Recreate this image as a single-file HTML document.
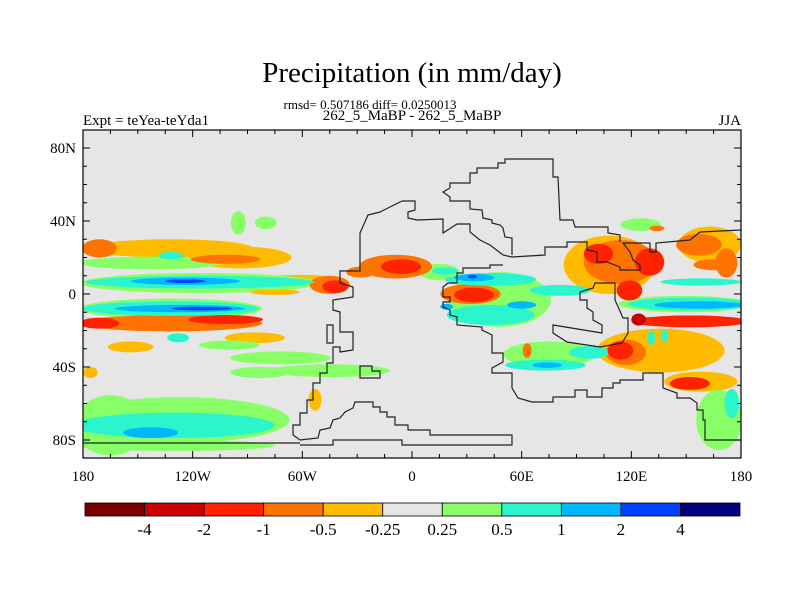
<!DOCTYPE html>
<html><head><meta charset="utf-8"><style>
html,body{margin:0;padding:0;background:#fff;}
svg{display:block;font-family:"Liberation Serif",serif;}
</style></head><body>
<svg id="chart" width="800" height="600" viewBox="0 0 800 600">
<text x="412" y="82" text-anchor="middle" font-size="29">Precipitation (in mm/day)</text>
<text x="370" y="109" text-anchor="middle" font-size="13">rmsd= 0.507186 diff= 0.0250013</text>
<text x="412" y="120" text-anchor="middle" font-size="15">262_5_MaBP - 262_5_MaBP</text>
<text x="83" y="125" font-size="15">Expt = teYea-teYda1</text>
<text x="741" y="125" text-anchor="end" font-size="15">JJA</text>
<defs><clipPath id="plotclip"><rect x="83" y="130" width="658" height="328"/></clipPath></defs>
<rect x="83" y="130" width="658" height="328" fill="#e6e6e6"/>
<g id="fields" clip-path="url(#plotclip)"></g>
<g id="coast" fill="none" stroke="#222" stroke-width="1.2" clip-path="url(#plotclip)"></g>
<rect x="83" y="130" width="658" height="328" fill="none" stroke="#000" stroke-width="1.2"/>
<g id="axes"></g>
<g id="colorbar"></g>
</svg>
<script>
// ---- data ----
const blobLon = [-132,-171,-94,-102,-61,-45,-42,-143,-132,-116,-116,-124,-124,-75,-132,-132,-127,-115,-132,-171,-102,-86,-154,-100,-72,-45,-83,-128,-95,-80,-127,-165,-130,-143,-130,-53,-176,-9,-28,-6,15,18,48,43,34,33,32,34,43,60,19,81,75,73,74,97,63,108,114,102,130,119,163,157,165,125,134,149,152,124,152,157,158,136,117,114,131,138,158,152,168,175,172];
const blobLat = [25,25,20,19,8,5,4,17,21,6,6.5,7,7,1,-8,-8,-8,-8,-16,-16,-14,-24,-29,-28,-35,-42,-43,-24,39,39,-69,-72,-72,-76,-83,-58,-43,15,12,15,12,12.6,-3,8,9,9.5,0,-0.5,-11.5,-6,-7,2,-33,-39,-39,-32,-31,16,17.5,22,17.5,2,27,27,16,38,36,-5.5,-5.5,-14,-15,-6,6.6,-31,-32,-31,-24,-23,-48,-49,-69,-60,17];
const blobW = [90,19,56,38,40,22,14,78,14,130,125,60,22,27,100,96,71,33,100,22,41,33,25,33,55,66,33,12,8,12,120,40,110,30,110,7,8,40,16,22,22,14,56,50,22,5,33,22,48,16,7,33,50,44,16,22,5,50,40,16,16,14,34,25,22,22,8,72,68,8,64,49,44,70,22,14,4,4,40,22,25,8,12];
const blobH = [10,10,12,5,5,10,7,7,4,11,7,4,2,3,11,8,4,2,9,6,5,6,6,5,7,7,6,5,13,7,25,33,14,6,6,12,6,13,6,8,9,4,30,7,4,2,11,8,11,4,3.3,6,14,6,3,7,8,32,24,11,15,11,20,12,6,7,3,9,7,6.6,6.5,4,4,24,14,10,8,7,11,7,33,16,16];
const blobVal = [-0.3,-0.6,-0.3,-0.6,-0.3,-0.6,-1.5,0.3,0.7,0.3,0.7,1.5,3,-0.3,0.3,0.7,1.5,3,-0.6,-1.5,-1.5,-0.3,-0.3,0.3,0.3,0.3,0.3,0.7,0.3,0.3,0.3,0.3,0.7,1.5,0.3,-0.3,-0.3,-0.6,-0.6,-1.5,0.3,0.7,0.3,0.7,1.5,3,-0.6,-1.5,0.7,1.5,1.5,0.7,0.3,0.7,1.5,0.7,-0.6,-0.3,-0.6,-1.5,-1.5,-1.5,-0.3,-0.6,-0.6,0.3,-0.6,0.3,0.7,-3,-1.5,1.5,0.7,-0.3,-0.6,-1.5,0.7,0.7,-0.3,-1.5,0.3,0.7,-0.6];
const levelBounds = [-4,-2,-1,-0.5,-0.25,0.25,0.5,1,2,4];
const levelColors = ["#7a0000","#cc0000","#ff2200","#ff7300","#ffbb00","#e6e6e6","#88ff66","#2af5cc","#00b8ff","#0040ff","#000080"];
const levelLabels = ["-4","-2","-1","-0.5","-0.25","0.25","0.5","1","2","4"];
const lonTicks = [-180,-120,-60,0,60,120,180];
const lonTickLabels = ["180","120W","60W","0","60E","120E","180"];
const latTicks = [80,40,0,-40,-80];
const latTickLabels = ["80N","40N","0","40S","80S"];
// ---- axes ----
const X0=83, X1=741, Y0=130, Y1=458;
function xs(lon){return X0+(lon+180)*(X1-X0)/360;}
function ys(lat){return 294-lat*1.825;}
function colorFor(v){let i=0;while(i<levelBounds.length && v>=levelBounds[i]) i++;return levelColors[i];}
const NS="http://www.w3.org/2000/svg";
function mk(tag,attrs,parent){const e=document.createElementNS(NS,tag);for(const k in attrs)e.setAttribute(k,attrs[k]);parent.appendChild(e);return e;}
const fields=document.getElementById('fields');
const order=blobVal.map((v,i)=>i).sort((a,b)=>Math.abs(blobVal[a])-Math.abs(blobVal[b]));
order.forEach(i=>{
  const e=mk('ellipse',{cx:xs(blobLon[i]),cy:ys(blobLat[i]),rx:blobW[i]*(X1-X0)/720,ry:blobH[i]*1.825/2,fill:colorFor(blobVal[i])},fields);
  
  
});
const coastPaths=[
"M402,201 L380,212 L368,215 L360,233 L360,271 L340,271 L340,283 L353,287 L353,297 L333,300 L333,310 L340,312 L340,332 L353,332 L353,350 L340,352 L340,347 L333,347 L333,363 L327,363 L327,373 L320,373 L320,383 L313,383 L313,400 L307,400 L307,413 L300,413 L300,425 L293,425 L293,435 L300,440",
"M402,201 L415,201 L415,210 L408,212 L408,218 L417,220 L443,219 L443,233 L457,224 L470,224 L470,232 L480,240 L490,245 L503,255 L512,257 L545,255 L545,247 L567,247 L567,242 L587,242 L587,250 L597,252 L597,262 L607,262 L620,267 L620,270 L640,270 L640,265 L633,260 L630,252 L623,243 L650,243 L650,252 L656,252 L656,243 L690,240 L700,232 L741,230",
"M503,265 L490,265 L490,268 L463,268 L463,273 L457,273 L457,283 L448,283 L443,287 L443,297 L450,297 L450,302 L443,302 L443,307 L450,310 L450,315 L457,317 L457,325 L482,327 L482,330 L492,335 L492,353 L503,353 L503,362 L492,368 L492,373 L512,373 L512,388 L518,398 L532,402 L553,402 L553,397 L575,397 L575,390 L587,390 L587,397 L602,397 L602,388 L613,388 L613,383 L620,383 L620,380 L643,380 L643,373 L663,373 L663,388 L677,393 L677,398 L690,398 L697,403 L697,410 L703,410 L703,420 L705,420 L705,440 L741,440",
"M450,188 L443,192 L450,197 L450,201 L470,201 L470,209 L482,210 L483,218 L492,220 L492,223 L500,225 L503,228 L505,237 L512,238 L512,255",
"M450,188 L450,183 L470,183 L470,173 L477,173 L477,168 L498,168 L498,163 L505,163 L505,159 L553,159 L553,177 L558,177 L560,220 L573,220 L575,227 L608,227 L608,233 L620,235 L620,242",
"M580,292 L580,300 L587,300 L587,308 L593,312 L593,320 L602,325 L602,333 L553,325 L553,333 L567,342 L600,347 L622,343 L628,333 L628,318 L623,318 L615,300 L615,283 L595,283 L593,288 L580,292",
"M300,440 L318,438 L320,430 L330,428 L333,420 L340,418 L345,412 L353,408 L355,402 L373,402 L373,407 L380,407 L380,412 L387,412 L387,417 L395,417 L395,425 L408,425 L408,430 L430,430 L430,435 L512,435 L512,445 L402,445 L402,440 L333,440 L333,445 L300,445",
"M83,443 L300,443",
"M360,366 L372,366 L372,371 L380,371 L380,378 L360,378 Z",
"M327,325 L333,325 L333,343 L327,343 Z"
];
const coast=document.getElementById('coast');
coastPaths.forEach(d=>{
  const p=mk('path',{d:d},coast);
  
  
});
const axes=document.getElementById('axes');
for(let lon=-180;lon<=180;lon+=15){
  const major=lon%60===0, L=major?7:4;
  mk('line',{x1:xs(lon),x2:xs(lon),y1:Y1,y2:Y1-L,stroke:'#000'},axes);
  mk('line',{x1:xs(lon),x2:xs(lon),y1:Y0,y2:Y0+L,stroke:'#000'},axes);
}
for(let lat=-80;lat<=80;lat+=10){
  const major=lat%40===0, L=major?7:4;
  mk('line',{x1:X0,x2:X0+L,y1:ys(lat),y2:ys(lat),stroke:'#000'},axes);
  mk('line',{x1:X1,x2:X1-L,y1:ys(lat),y2:ys(lat),stroke:'#000'},axes);
}
lonTicks.forEach((lon,i)=>{
  const t=mk('text',{x:xs(lon),y:481,'text-anchor':'middle','font-size':15},axes);
  t.textContent=lonTickLabels[i];
  
  
});
latTicks.forEach((lat,i)=>{
  const t=mk('text',{x:76,y:ys(lat)+5,'text-anchor':'end','font-size':15},axes);
  t.textContent=latTickLabels[i];
  
  
});
const cb=document.getElementById('colorbar');
const cbX=85, cbW=655/levelColors.length, cbY=503, cbH=13;
levelColors.forEach((c,i)=>{
  const r=mk('rect',{x:cbX+i*cbW,y:cbY,width:cbW,height:cbH,fill:c,stroke:'#000','stroke-width':0.8},cb);
  
  
});
levelLabels.forEach((s,i)=>{
  const t=mk('text',{x:cbX+(i+1)*cbW,y:535,'text-anchor':'middle','font-size':17},cb);
  t.textContent=s;
  
  
});
</script>
</body></html>
